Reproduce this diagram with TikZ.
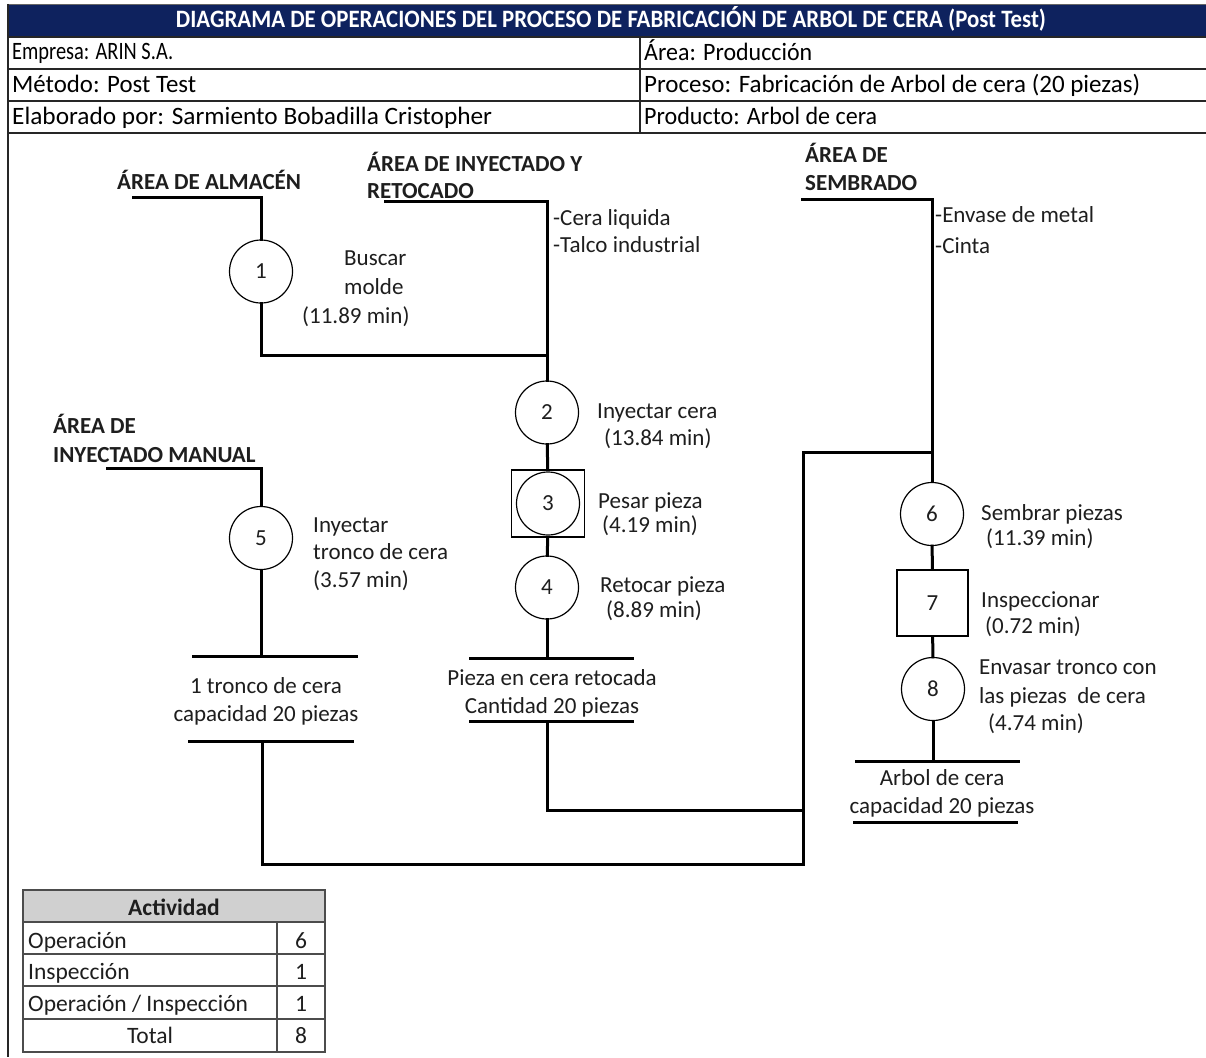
\documentclass[tikz,border=0pt]{standalone}
\usepackage{fontspec}
\setmainfont{Carlito}
\usepackage{graphicx}
\newcommand{\bodyfs}{\fontsize{23}{28}\selectfont}
\newcommand{\hdrfs}{\fontsize{25}{28}\selectfont}
\newcommand{\tabfs}{\fontsize{23.5}{28}\selectfont}
\newcommand{\hfit}[2]{\resizebox{#1pt}{\height}{#2}}
\definecolor{navy}{RGB}{14,34,94}
\definecolor{tgrey}{RGB}{208,208,208}
\definecolor{ink}{RGB}{30,30,30}
\begin{document}
\begin{tikzpicture}[x=1pt,y=-1pt,
  conn/.style={line width=3pt, line cap=rect},
  frame/.style={line width=1.5pt, draw=black!85},
  opc/.style={draw, circle, line width=1.2pt, minimum size=63pt, inner sep=0pt, font=\bodyfs, text=ink},
  insp/.style={draw, rectangle, line width=1.2pt, inner sep=0pt, font=\bodyfs, text=ink},
  txt/.style={anchor=base west, inner sep=0pt, font=\bodyfs, text=ink},
  ctxt/.style={anchor=base, inner sep=0pt, font=\bodyfs, text=ink},
  area/.style={anchor=base west, inner sep=0pt, font=\bodyfs\bfseries, text=ink},
  htxt/.style={anchor=base west, inner sep=0pt, font=\hdrfs, text=black},
  ttxt/.style={anchor=base west, inner sep=0pt, font=\tabfs, text=ink},
  tnum/.style={anchor=base, inner sep=0pt, font=\tabfs, text=ink}
]
\useasboundingbox (0,0) rectangle (1206,1057);
\fill[white] (0,0) rectangle (1206,1057);

% ---------------- header ----------------
\fill[navy] (8,5) rectangle (1206,37);
\draw[line width=1.2pt, draw=black!60] (8,4.5) -- (1206,4.5);
\node[anchor=base, inner sep=0pt, text=white, font=\hdrfs\bfseries] (title) at (611,28)
  {\hfit{870}{DIAGRAMA DE OPERACIONES DEL PROCESO DE FABRICACIÓN DE ARBOL DE CERA (Post Test)}};
\foreach \yy in {37,69,101,133} \draw[frame] (8,\yy) -- (1206,\yy);
\draw[frame] (640,37) -- (640,133);
\draw[frame] (8,4) -- (8,1057);

\node[htxt] (h1) at (12,60) {\hfit{161}{Empresa: ARIN S.A.}};
\node[htxt] (h2) at (12,92) {\hfit{184}{Método: Post Test}};
\node[htxt] (h3) at (12,124) {\hfit{480}{Elaborado por: Sarmiento Bobadilla Cristopher}};
\node[htxt] (h4) at (644,60) {\hfit{168}{Área: Producción}};
\node[htxt] (h5) at (644,92) {\hfit{496}{Proceso: Fabricación de Arbol de cera (20 piezas)}};
\node[htxt] (h6) at (644,124) {\hfit{233}{Producto: Arbol de cera}};

% ---------------- area labels ----------------
\node[area] (aAlm) at (117,189) {ÁREA DE ALMACÉN};
\node[area] (aIny1) at (367,171) {ÁREA DE INYECTADO Y};
\node[area] (aIny2) at (367,198) {RETOCADO};
\node[area] (aMan1) at (53,433) {ÁREA DE};
\node[area] (aMan2) at (53,462) {INYECTADO MANUAL};
\node[area] (aSem1) at (805,162) {ÁREA DE};
\node[area] (aSem2) at (805,190) {SEMBRADO};

% ---------------- symbols ----------------
\node[opc] (o1) at (261,271.5) {1};
\node[opc] (o2) at (547,412.5) {2};
\node[insp, minimum width=73pt, minimum height=67pt] (s3) at (548,503.5) {};
\node[opc] (o3) at (548,503.5) {3};
\node[opc] (o4) at (547,587.5) {4};
\node[opc] (o5) at (261,538) {5};
\node[opc] (o6) at (932,514) {6};
\node[insp, minimum width=71pt, minimum height=66pt] (s7) at (932.5,603) {7};
\node[opc] (o8) at (933,689) {8};

% ---------------- descriptions ----------------
\node[txt] (d1a) at (344,265) {Buscar};
\node[txt] (d1b) at (344,294) {molde};
\node[txt] (d1c) at (302,323) {(11.89 min)};
\node[txt] (m2a) at (553,225) {-Cera liquida};
\node[txt] (m2b) at (553,252) {-Talco industrial};
\node[txt] (d2a) at (597,418) {Inyectar cera};
\node[txt] (d2b) at (604,445) {(13.84 min)};
\node[txt] (d3a) at (598,508) {Pesar pieza};
\node[txt] (d3b) at (602,532) {(4.19 min)};
\node[txt] (d4a) at (600,592) {Retocar pieza};
\node[txt] (d4b) at (606,617) {(8.89 min)};
\node[txt] (d5a) at (313,532) {Inyectar};
\node[txt] (d5b) at (313,559) {tronco de cera};
\node[txt] (d5c) at (313,587) {(3.57 min)};
\node[txt] (m6a) at (935,222) {-Envase de metal};
\node[txt] (m6b) at (935,253) {-Cinta};
\node[txt] (d6a) at (981,520) {Sembrar piezas};
\node[txt] (d6b) at (986,545) {(11.39 min)};
\node[txt] (d7a) at (981,607) {Inspeccionar};
\node[txt] (d7b) at (985,633) {(0.72 min)};
\node[txt] (d8a) at (979,674) {Envasar tronco con};
\node[txt] (d8b) at (979,703) {las piezas\ \ de cera};
\node[txt] (d8c) at (988,730) {(4.74 min)};

% results
\node[ctxt] (r5a) at (266,693) {1 tronco de cera};
\node[ctxt] (r5b) at (266,721) {capacidad 20 piezas};
\node[ctxt] (r4a) at (552,685) {Pieza en cera retocada};
\node[ctxt] (r4b) at (552,713) {Cantidad 20 piezas};
\node[ctxt] (r8a) at (942,785) {Arbol de cera};
\node[ctxt] (r8b) at (942,813) {capacidad 20 piezas};

% ---------------- coordinates ----------------
\coordinate (cAlm) at (133,197);
\coordinate (cIny) at (385,201);
\coordinate (j1) at (547,355);
\coordinate (cMan) at (107,468);
\coordinate (cSem) at (802,199);
\coordinate (b4t) at (547,658);
\coordinate (b4b) at (547,721);
\coordinate (b5t) at (261,656);
\coordinate (b5b) at (262,741);
\coordinate (b8t) at (933,761);
\coordinate (jr1) at (803,452);
\coordinate (jr2) at (803,810);
\coordinate (jr3) at (803,864);
\coordinate (j6) at (932,452);

% bars
\draw[conn] (470,658) -- (632,658);
\draw[conn] (470,721) -- (632,721);
\draw[conn] (193,656) -- (356,656);
\draw[conn] (189,741) -- (352,741);
\draw[conn] (856,761) -- (1018,761);
\draw[conn] (854,822) -- (1016,822);

% ---------------- connectors ----------------
\draw[conn] (cAlm) -| (o1);
\draw[conn] (o1) |- (j1);
\draw[conn] (cIny) -| (o2);
\draw[conn] (o2) -- (s3);
\draw[conn] (s3) -- (o4);
\draw[conn] (o4) -- (b4t);
\draw[conn] (b4b) |- (jr2);
\draw[conn] (cMan) -| (o5);
\draw[conn] (o5) -- (b5t);
\draw[conn] (b5b) |- (jr3);
\draw[conn] (jr3) -- (jr1) -- (j6);
\draw[conn] (cSem) -| (o6);
\draw[conn] (o6) -- (s7);
\draw[conn] (s7) -- (o8);
\draw[conn] (o8) -- (b8t);

% ---------------- summary table ----------------
\fill[tgrey] (23,890) rectangle (325,922);
\draw[line width=1.5pt, draw=black!70] (23,890) rectangle (325,1052);
\foreach \yy in {922,954,986,1019} \draw[line width=1.3pt, draw=black!70] (23,\yy) -- (325,\yy);
\draw[line width=1.3pt, draw=black!70] (277,922) -- (277,1052);
\node[anchor=base, inner sep=0pt, font=\tabfs\bfseries, text=ink] (tAct) at (174,915) {Actividad};
\node[ttxt] (tOp) at (28,948) {Operación};
\node[ttxt] (tIn) at (28,979) {Inspección};
\node[ttxt] (tOI) at (28,1011) {Operación / Inspección};
\node[tnum] (tTot) at (150,1043) {Total};
\node[tnum] (nOp) at (301,948) {6};
\node[tnum] (nIn) at (301,979) {1};
\node[tnum] (nOI) at (301,1011) {1};
\node[tnum] (nTot) at (301,1043) {8};
\end{tikzpicture}
\end{document}
